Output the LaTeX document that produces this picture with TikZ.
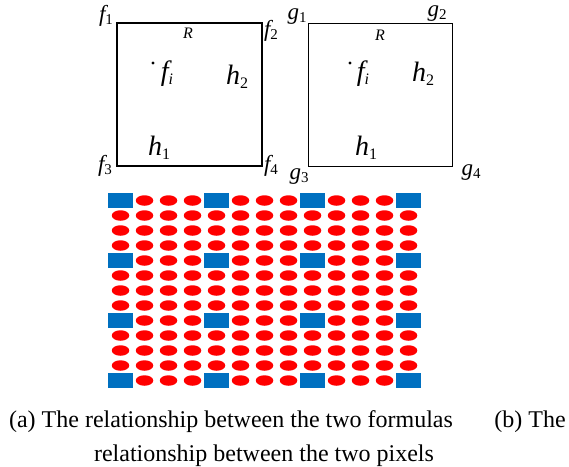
\documentclass[tikz,border=0pt]{standalone}
\usepackage{fontspec}
\setmainfont{Liberation Serif}
\usetikzlibrary{shapes.geometric}
\newcommand\biglab[2]{{\fontsize{28}{28}\selectfont\itshape #1}{\fontsize{16}{16}\selectfont\raisebox{-4pt}{#2}}}
\newcommand\cornlab[2]{{\fontsize{23}{23}\selectfont\itshape #1}{\fontsize{15}{15}\selectfont\raisebox{-3pt}{#2}}}
\definecolor{pixblue}{HTML}{0070C0}
\definecolor{pixred}{HTML}{FF0000}
\tikzset{
  lab/.style={inner sep=0pt, anchor=center},
  bluepix/.style={fill=pixblue, draw=none, minimum width=25pt, minimum height=15pt, inner sep=0pt},
  redpix/.style={ellipse, fill=pixred, draw=none, minimum width=17.5pt, minimum height=10.5pt, inner sep=0pt},
  capt/.style={inner sep=0pt, anchor=base, font=\fontsize{24}{28}\selectfont}
}
\begin{document}
\begin{tikzpicture}[x=1pt,y=-1pt]
\useasboundingbox (0,0) rectangle (569,466);
% left box
\draw[line width=2pt] (117,23) rectangle (262,166);
\node[lab] (f1) at (106,16) {\cornlab{f}{1}};
\node[lab] (f2) at (271,31) {\cornlab{f}{2}};
\node[lab] (f3) at (105,166) {\cornlab{f}{3}};
\node[lab] (f4) at (271,166) {\cornlab{f}{4}};
\node[lab] (RL) at (188,33) {\fontsize{16}{16}\selectfont\itshape R};
\fill (153,63) circle (1.6);
\node[lab] (fiL) at (167,74) {\biglab{f}{\itshape i}};
\node[lab] (h2L) at (237,77) {\biglab{h}{2}};
\node[lab] (h1L) at (159,148) {\biglab{h}{1}};
% right box
\draw[line width=1pt] (308,23) rectangle (452,166);
\node[lab] (g1) at (297,17) {\cornlab{g}{1}};
\node[lab] (g2) at (437,14) {\cornlab{g}{2}};
\node[lab] (g3) at (299,177) {\cornlab{g}{3}};
\node[lab] (g4) at (471,173) {\cornlab{g}{4}};
\node[lab] (RR) at (380,35) {\fontsize{16}{16}\selectfont\itshape R};
\fill (350,63) circle (1.6);
\node[lab] (fiR) at (363,74) {\biglab{f}{\itshape i}};
\node[lab] (h2R) at (423,74) {\biglab{h}{2}};
\node[lab] (h1R) at (366,148) {\biglab{h}{1}};
% pixel grid
\foreach \r in {0,...,12}{
  \foreach \c in {0,...,12}{
    \pgfmathtruncatemacro\rm{mod(\r,4)}
    \pgfmathtruncatemacro\cm{mod(\c,4)}
    \pgfmathtruncatemacro\isb{(\rm==0)&&(\cm==0)}
    \ifnum\isb=1
      \node[bluepix] (p-\r-\c) at ({120.5+24*\c},{200.5+15*\r}) {};
    \else
      \node[redpix] (p-\r-\c) at ({120.5+24*\c},{200.5+15*\r}) {};
    \fi
  }
}
% caption
\node[capt] (capA) at (231,427) {(a) The relationship between the two formulas};
\node[capt] (capB) at (530,427) {(b) The};
\node[capt] (capC) at (264,461) {relationship between the two pixels};
\end{tikzpicture}
\end{document}
